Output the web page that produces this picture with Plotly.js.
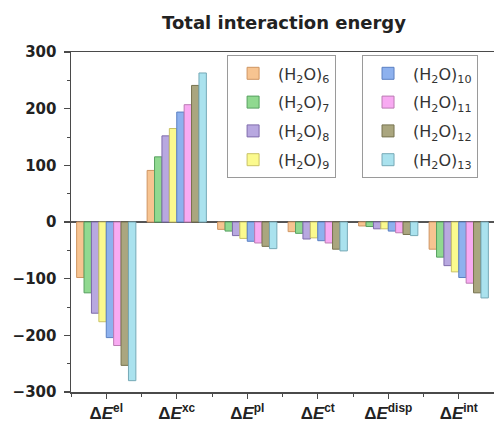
<!DOCTYPE html>
<html>
<head>
<meta charset="utf-8">
<script src="https://cdn.plot.ly/plotly-3.0.1.min.js"></script>
<style>html,body{margin:0;padding:0;background:#fff;}#chart{width:494px;height:428px;}</style>
</head>
<body>
<div id="chart"></div>
<script>
// Categories (energy components)
var categories = ["ΔE<sup>el</sup>", "ΔE<sup>xc</sup>", "ΔE<sup>pl</sup>", "ΔE<sup>ct</sup>", "ΔE<sup>disp</sup>", "ΔE<sup>int</sup>"];
var tickLabels = ["<b>Δ<i>E</i><sup>el</sup></b>", "<b>Δ<i>E</i><sup>xc</sup></b>", "<b>Δ<i>E</i><sup>pl</sup></b>", "<b>Δ<i>E</i><sup>ct</sup></b>", "<b>Δ<i>E</i><sup>disp</sup></b>", "<b>Δ<i>E</i><sup>int</sup></b>"];
var seriesNames = ["(H<sub>2</sub>O)<sub>6</sub>", "(H<sub>2</sub>O)<sub>7</sub>", "(H<sub>2</sub>O)<sub>8</sub>", "(H<sub>2</sub>O)<sub>9</sub>", "(H<sub>2</sub>O)<sub>10</sub>", "(H<sub>2</sub>O)<sub>11</sub>", "(H<sub>2</sub>O)<sub>12</sub>", "(H<sub>2</sub>O)<sub>13</sub>"];

// Values per cluster: [el, xc, pl, ct, disp, int]
var h2o6  = [-98,  91, -13, -17,  -7,  -48];
var h2o7  = [-125, 115, -16, -20,  -8,  -62];
var h2o8  = [-161, 152, -24, -30, -12,  -77];
var h2o9  = [-176, 165, -29, -28, -12,  -88];
var h2o10 = [-204, 194, -34, -33, -16,  -98];
var h2o11 = [-218, 207, -37, -37, -19, -108];
var h2o12 = [-253, 241, -43, -48, -22, -125];
var h2o13 = [-280, 263, -47, -51, -24, -134];
var seriesValues = [h2o6, h2o7, h2o8, h2o9, h2o10, h2o11, h2o12, h2o13];

var fillColors = ["#f7c491", "#90d990", "#b8a8e0", "#fbfa8e", "#8db1ee", "#f8aaf2", "#aaa67f", "#aae2ee"];
var lineColors = ["#cf9562", "#57a060", "#7f6cab", "#c9c266", "#5b80c2", "#bb7bb3", "#77734f", "#76a9b6"];

var xIdx = categories.map(function(c, i){ return i; });

var traces = seriesValues.map(function(vals, k){
  return {
    type: "bar",
    x: xIdx,
    y: vals,
    name: seriesNames[k],
    legend: k < 4 ? "legend" : "legend2",
    legendgroup: "g" + k,
    marker: {color: fillColors[k], line: {color: lineColors[k], width: 1}},
    hoverinfo: "y+name"
  };
});

var axisColor = "#4a4a4a";
var wideFont = "DejaVu Sans, Verdana, sans-serif";
var legendCommon = {
  bgcolor: "#ffffff",
  bordercolor: "#9a9a9a",
  borderwidth: 1,
  font: {family: wideFont, size: 16, color: "#333"},
  tracegroupgap: 5,
  itemwidth: 40,
  yanchor: "top",
  y: 0.99,
  xanchor: "left"
};

var layout = {
  width: 494,
  height: 428,
  margin: {l: 71, r: 0, t: 52, b: 36},
  paper_bgcolor: "#ffffff",
  plot_bgcolor: "#ffffff",
  barmode: "group",
  bargap: 0.16,
  bargroupgap: 0,
  showlegend: true,
  title: {
    text: "<b>Total interaction energy</b>",
    font: {family: wideFont, size: 18, color: "#222"},
    x: 0.575, xanchor: "center",
    y: 0.947, yanchor: "middle"
  },
  legend: Object.assign({}, legendCommon, {x: 0.369}),
  legend2: Object.assign({}, legendCommon, {x: 0.688}),
  xaxis: {
    range: [-0.5, 5.5],
    tickmode: "array",
    tickvals: xIdx,
    ticktext: tickLabels,
    tickfont: {family: "Liberation Sans, Arial, sans-serif", size: 17, color: "#222"},
    ticks: "outside",
    ticklen: 5,
    tickwidth: 1.2,
    tickcolor: axisColor,
    minor: {tickmode: "linear", tick0: 0.5, dtick: 1, ticks: "outside", ticklen: 3, tickcolor: axisColor, tickwidth: 1},
    showline: true,
    linecolor: axisColor,
    linewidth: 1.5,
    mirror: true,
    showgrid: false,
    zeroline: false,
    fixedrange: true
  },
  yaxis: {
    range: [-300, 300],
    dtick: 100,
    tick0: 0,
    tickfont: {family: wideFont, size: 15, color: "#222"},
    ticks: "outside",
    ticklen: 6,
    tickwidth: 1.2,
    tickcolor: axisColor,
    ticklabelstandoff: 4,
    minor: {dtick: 50, ticks: "outside", ticklen: 3, tickcolor: axisColor, tickwidth: 1},
    showline: true,
    linecolor: axisColor,
    linewidth: 1.5,
    mirror: true,
    showgrid: false,
    zeroline: true,
    zerolinecolor: "#555",
    zerolinewidth: 1.5,
    tickprefix: "<b>",
    ticksuffix: "</b>",
    fixedrange: true
  }
};

Plotly.newPlot("chart", traces, layout, {displayModeBar: false, staticPlot: true});
</script>
</body>
</html>
